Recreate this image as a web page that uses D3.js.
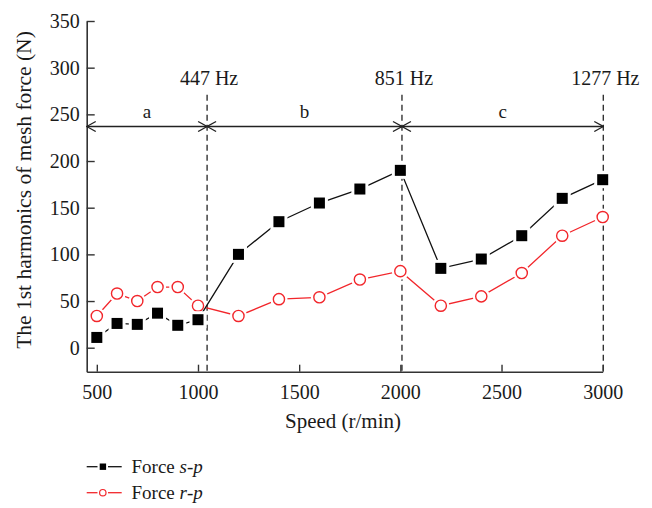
<!DOCTYPE html>
<html>
<head>
<meta charset="utf-8">
<script src="https://cdn.jsdelivr.net/npm/d3@7"></script>
<style>
body { margin: 0; background: #fff; }
svg text { font-family: "Liberation Serif", "DejaVu Serif", serif; fill: #1a1a1a; }
</style>
</head>
<body>
<svg id="chart" width="652" height="508"></svg>
<script>
"use strict"

// chart data
var speeds   = [500, 600, 700, 800, 900, 1000, 1200, 1400, 1600, 1800, 2000, 2200, 2400, 2600, 2800, 3000];
var forceSP  = [11, 26, 25, 37, 24, 30, 100, 135, 155, 170, 190, 85, 95, 120, 160, 180];
var forceRP  = [34, 58, 50, 65, 65, 45, 34, 52, 54, 73, 82, 45, 55, 80, 120, 140];
var xTicks   = [500, 1000, 1500, 2000, 2500, 3000];
var yTicks   = [0, 50, 100, 150, 200, 250, 300, 350];
var bounds   = [1045, 2008, 3003];
var boundLbl = ["447 Hz", "851 Hz", "1277 Hz"];
var zoneLbl  = ["a", "b", "c"];

var svg = d3.select("#chart");

var x = d3.scaleLinear().domain([450, 3000]).range([86.7, 602.7]);
var y = d3.scaleLinear().domain([-25.7, 350]).range([371.7, 21]);

var axisColor = "#333";

// axes (ticks pointing inward)
var xAxis = svg.append("g")
  .attr("transform", "translate(0," + y(-25.7) + ")")
  .call(d3.axisBottom(x).tickValues(xTicks).tickFormat(d3.format("d"))
          .tickSize(-7).tickPadding(10).tickSizeOuter(0));
var yAxis = svg.append("g")
  .attr("transform", "translate(" + x(450) + ",0)")
  .call(d3.axisLeft(y).tickValues(yTicks).tickSize(-8).tickPadding(7).tickSizeOuter(0));

[xAxis, yAxis].forEach(function(g) {
	g.select(".domain").attr("stroke", axisColor).attr("stroke-width", 1.6);
	g.selectAll(".tick line").attr("stroke", axisColor).attr("stroke-width", 1.4);
	g.selectAll(".tick text")
	 .style("font-family", "Liberation Serif")
	 .style("font-size", "20px")
	 .attr("fill", "#1a1a1a");
});
xAxis.selectAll(".tick text").attr("dy", "0.85em");

// axis titles
svg.append("text")
  .attr("x", 343).attr("y", 428)
  .attr("text-anchor", "middle")
  .style("font-size", "21px")
  .text("Speed (r/min)");
svg.append("text")
  .attr("transform", "translate(31,190) rotate(-90)")
  .attr("text-anchor", "middle")
  .style("font-size", "21.5px")
  .text("The 1st harmonics of mesh force (N)");

// boundary dashed lines and labels
svg.append("g").selectAll("line")
  .data(bounds)
  .enter()
  .append("line")
  .attr("x1", function(d){ return x(d); })
  .attr("x2", function(d){ return x(d); })
  .attr("y1", y(271))
  .attr("y2", y(-25.7))
  .attr("stroke", axisColor)
  .attr("stroke-width", 1.4)
  .attr("stroke-dasharray", "6,4");

svg.append("g").selectAll("text")
  .data(bounds)
  .enter()
  .append("text")
  .attr("x", function(d){ return x(d) + 2; })
  .attr("y", y(281))
  .attr("text-anchor", "middle")
  .style("font-size", "20px")
  .text(function(d, i){ return boundLbl[i]; });

// double arrows between zones
var defs = svg.append("defs");
defs.append("marker")
  .attr("id", "arrow")
  .attr("viewBox", "0 0 12 12")
  .attr("refX", 11).attr("refY", 6)
  .attr("markerWidth", 12).attr("markerHeight", 12)
  .attr("markerUnits", "userSpaceOnUse")
  .attr("orient", "auto-start-reverse")
  .append("path")
  .attr("d", "M2,1 L11,6 L2,11")
  .attr("fill", "none")
  .attr("stroke", "#222")
  .attr("stroke-width", 1.3);

var zones = [450].concat(bounds);
var arrowY = y(237);
var zoneG = svg.append("g");
for (let i = 0; i < 3; i++) {
	zoneG.append("line")
	  .attr("x1", x(zones[i])).attr("x2", x(zones[i + 1]))
	  .attr("y1", arrowY).attr("y2", arrowY)
	  .attr("stroke", "#222")
	  .attr("stroke-width", 1.3)
	  .attr("marker-start", "url(#arrow)")
	  .attr("marker-end", "url(#arrow)");
	zoneG.append("text")
	  .attr("x", (x(zones[i]) + x(zones[i + 1])) / 2)
	  .attr("y", arrowY - 8)
	  .attr("text-anchor", "middle")
	  .style("font-size", "19px")
	  .text(zoneLbl[i]);
}

// series
var line = d3.line()
  .x(function(d){ return x(d[0]); })
  .y(function(d){ return y(d[1]); });

var rp = speeds.map(function(s, i){ return [s, forceRP[i]]; });
var sp = speeds.map(function(s, i){ return [s, forceSP[i]]; });

var red = "#f2262b";

svg.append("path")
  .datum(rp)
  .attr("d", line)
  .attr("fill", "none")
  .attr("stroke", red)
  .attr("stroke-width", 1.3);
svg.append("g").selectAll("circle")
  .data(rp)
  .enter()
  .append("circle")
  .attr("cx", function(d){ return x(d[0]); })
  .attr("cy", function(d){ return y(d[1]); })
  .attr("r", 5.6)
  .attr("fill", "#fff")
  .attr("stroke", "#fff")
  .attr("stroke-width", 6);
svg.append("g").selectAll("circle")
  .data(rp)
  .enter()
  .append("circle")
  .attr("cx", function(d){ return x(d[0]); })
  .attr("cy", function(d){ return y(d[1]); })
  .attr("r", 5.6)
  .attr("fill", "#fff")
  .attr("stroke", red)
  .attr("stroke-width", 1.4);

svg.append("path")
  .datum(sp)
  .attr("d", line)
  .attr("fill", "none")
  .attr("stroke", "#111")
  .attr("stroke-width", 1.3);
svg.append("g").selectAll("rect")
  .data(sp)
  .enter()
  .append("rect")
  .attr("x", function(d){ return x(d[0]) - 8.5; })
  .attr("y", function(d){ return y(d[1]) - 8.5; })
  .attr("width", 17).attr("height", 17)
  .attr("fill", "#fff");
svg.append("g").selectAll("rect")
  .data(sp)
  .enter()
  .append("rect")
  .attr("x", function(d){ return x(d[0]) - 5.5; })
  .attr("y", function(d){ return y(d[1]) - 5.5; })
  .attr("width", 11).attr("height", 11)
  .attr("fill", "#000");

// legend
var legend = svg.append("g");
var legY = [466.7, 492.7];
[0, 1].forEach(function(i) {
	var c = i === 0 ? "#111" : red;
	legend.append("line")
	  .attr("x1", 86.7).attr("x2", 97.5)
	  .attr("y1", legY[i]).attr("y2", legY[i])
	  .attr("stroke", c).attr("stroke-width", 1.3);
	legend.append("line")
	  .attr("x1", 108).attr("x2", 121.7)
	  .attr("y1", legY[i]).attr("y2", legY[i])
	  .attr("stroke", c).attr("stroke-width", 1.3);
	if (i === 0) {
		legend.append("rect")
		  .attr("x", 99.7).attr("y", legY[i] - 3.2)
		  .attr("width", 6.4).attr("height", 6.4)
		  .attr("fill", "#000");
	} else {
		legend.append("circle")
		  .attr("cx", 102.8).attr("cy", legY[i])
		  .attr("r", 3.2)
		  .attr("fill", "#fff")
		  .attr("stroke", red).attr("stroke-width", 1.2);
	}
	var t = legend.append("text")
	  .attr("x", 131.5).attr("y", legY[i] + 6)
	  .style("font-size", "19px");
	t.append("tspan").text("Force ");
	t.append("tspan").style("font-style", "italic").text(i === 0 ? "s" : "r");
	t.append("tspan").text("-");
	t.append("tspan").style("font-style", "italic").text("p");
});
</script>
</body>
</html>
